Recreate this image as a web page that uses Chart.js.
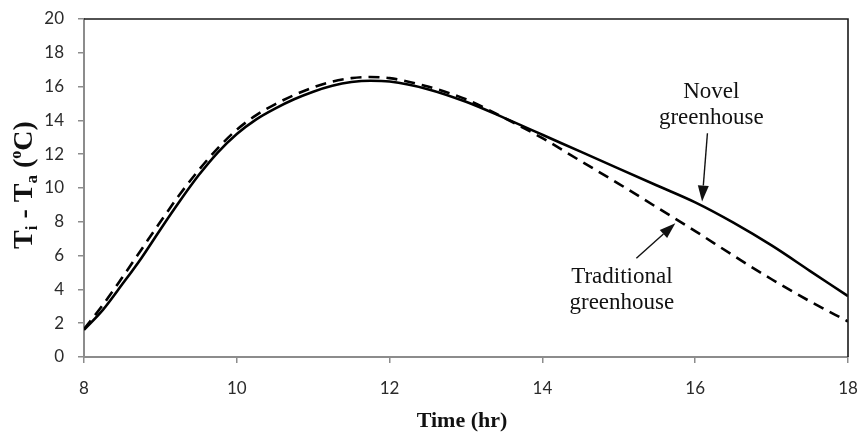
<!DOCTYPE html>
<html><head><meta charset="utf-8">
<script src="https://cdn.jsdelivr.net/npm/chart.js@4/dist/chart.umd.min.js"></script>
<style>html,body{margin:0;padding:0;background:#fff;}#wrap{width:861px;height:432px;}</style>
</head><body><div id="wrap"><canvas id="c" width="861" height="432"></canvas></div>
<script>
const hours = [8, 8.25, 8.5, 8.75, 9, 9.25, 9.5, 9.75, 10, 10.25, 10.5, 10.75, 11, 11.25, 11.5, 11.75, 12, 12.5, 13, 13.5, 14, 14.5, 15, 15.5, 16, 16.5, 17, 17.5, 18];
const novel = [1.6, 2.8, 4.3, 5.85, 7.55, 9.2, 10.75, 12.1, 13.2, 14.05, 14.7, 15.25, 15.7, 16.05, 16.27, 16.35, 16.3, 15.85, 15.1, 14.15, 13.15, 12.15, 11.15, 10.15, 9.15, 7.95, 6.6, 5.1, 3.6];
const traditional = [1.65, 3.1, 4.7, 6.35, 8.0, 9.6, 11.05, 12.35, 13.45, 14.3, 14.95, 15.5, 15.95, 16.3, 16.5, 16.57, 16.5, 16.0, 15.25, 14.15, 12.95, 11.6, 10.25, 8.85, 7.45, 6.0, 4.6, 3.3, 2.1];
const xTicks = [8, 10, 12, 14, 16, 18];
const yTicks = [0, 2, 4, 6, 8, 10, 12, 14, 16, 18, 20];
const xTitle = "Time (hr)";
const novelLabel = ["Novel", "greenhouse"];
const traditionalLabel = ["Traditional", "greenhouse"];
// annotation anchors in data units: [textX, textY(line1 baseline), arrowFromX, arrowFromY, arrowTipX, arrowTipY]
const novelNote = [16.21, 15.3, 16.16, 13.24, 16.09, 9.2];
const traditionalNote = [15.04, 4.4, 15.23, 5.84, 15.74, 7.91];

const serif = '"Liberation Serif","Times New Roman",serif';

function arrow(ctx, x1, y1, x2, y2) {
  const ang = Math.atan2(y2 - y1, x2 - x1);
  const hl = 16, hw = 5.5;
  const bx = x2 - hl * Math.cos(ang), by = y2 - hl * Math.sin(ang);
  ctx.beginPath(); ctx.moveTo(x1, y1); ctx.lineTo(bx, by); ctx.stroke();
  ctx.beginPath();
  ctx.moveTo(x2, y2);
  ctx.lineTo(bx + hw * Math.sin(ang), by - hw * Math.cos(ang));
  ctx.lineTo(bx - hw * Math.sin(ang), by + hw * Math.cos(ang));
  ctx.closePath(); ctx.fill();
}

const deco = {
  id: 'deco',
  afterDraw(chart) {
    const { ctx, chartArea: a, scales: { x, y } } = chart;
    ctx.save();
    // top & right frame
    ctx.strokeStyle = '#1a1a1a'; ctx.lineWidth = 1.6;
    ctx.beginPath(); ctx.moveTo(a.left, a.top); ctx.lineTo(a.right, a.top); ctx.lineTo(a.right, a.bottom); ctx.stroke();

    // annotations
    ctx.fillStyle = '#111'; ctx.strokeStyle = '#111'; ctx.lineWidth = 1.4;
    ctx.font = '23px ' + serif; ctx.textAlign = 'center'; ctx.textBaseline = 'alphabetic';
    [[novelLabel, novelNote], [traditionalLabel, traditionalNote]].forEach(([lab, n]) => {
      const tx = x.getPixelForValue(n[0]), ty = y.getPixelForValue(n[1]);
      lab.forEach((t, i) => ctx.fillText(t, tx, ty + i * 26));
      arrow(ctx, x.getPixelForValue(n[2]), y.getPixelForValue(n[3]), x.getPixelForValue(n[4]), y.getPixelForValue(n[5]));
    });

    // x title
    ctx.font = 'bold 22px ' + serif; ctx.fillStyle = '#111';
    ctx.fillText(xTitle, (a.left + a.right) / 2 - 4, 427);

    // y title with sub/superscripts
    const parts = [
      ['T', 'bold 28px', 0], ['i', 'bold 17px', 5], [' - ', 'bold 28px', 0], ['T', 'bold 28px', 0],
      ['a', 'bold 17px', 5], [' (', 'bold 28px', 0], ['o', 'bold 16px', -11], ['C)', 'bold 28px', 0]
    ];
    let total = 0;
    parts.forEach(p => { ctx.font = p[1] + ' ' + serif; p.push(ctx.measureText(p[0]).width); total += p[3]; });
    ctx.translate(31.5, (a.top + a.bottom) / 2 - 3);
    ctx.rotate(-Math.PI / 2);
    ctx.textAlign = 'left';
    let cx = -total / 2;
    parts.forEach(p => { ctx.font = p[1] + ' ' + serif; ctx.fillText(p[0], cx, p[2]); cx += p[3]; });
    ctx.restore();
  }
};

const toPts = (xs, ys) => xs.map((v, i) => ({ x: v, y: ys[i] }));

new Chart(document.getElementById('c'), {
  type: 'line',
  data: {
    datasets: [
      { label: 'Novel greenhouse', data: toPts(hours, novel), borderColor: '#000', borderWidth: 2.6,
        pointRadius: 0, cubicInterpolationMode: 'monotone', fill: false },
      { label: 'Traditional greenhouse', data: toPts(hours, traditional), borderColor: '#000', borderWidth: 2.6,
        borderDash: [11, 7], pointRadius: 0, cubicInterpolationMode: 'monotone', fill: false }
    ]
  },
  options: {
    responsive: false, animation: false, devicePixelRatio: 1,
    layout: { padding: { left: 0, right: 13, top: 19, bottom: 0 } },
    plugins: { legend: { display: false }, tooltip: { enabled: false } },
    scales: {
      x: {
        type: 'linear', min: 8, max: 18,
        afterBuildTicks: s => { s.ticks = xTicks.map(v => ({ value: v })); },
        afterFit: s => { s.height = 75; s.paddingLeft = 0; s.paddingRight = 0; },
        grid: { drawOnChartArea: false, drawTicks: true, tickLength: 6, color: '#8c8c8c', lineWidth: 1.5 },
        border: { display: true, color: '#8c8c8c', width: 2 },
        ticks: { color: '#2b2b2b', font: { family: 'Lato', size: 17 }, padding: 15, maxRotation: 0 }
      },
      y: {
        type: 'linear', min: 0, max: 20,
        afterBuildTicks: s => { s.ticks = yTicks.map(v => ({ value: v })); },
        afterFit: s => { s.width = 84; s.paddingTop = 0; s.paddingBottom = 0; },
        grid: { drawOnChartArea: false, drawTicks: true, tickLength: 6, color: '#8c8c8c', lineWidth: 1.5 },
        border: { display: true, color: '#8c8c8c', width: 2 },
        ticks: { color: '#2b2b2b', font: { family: 'Lato', size: 17 }, padding: 14 }
      }
    }
  },
  plugins: [deco]
});
</script></body></html>
